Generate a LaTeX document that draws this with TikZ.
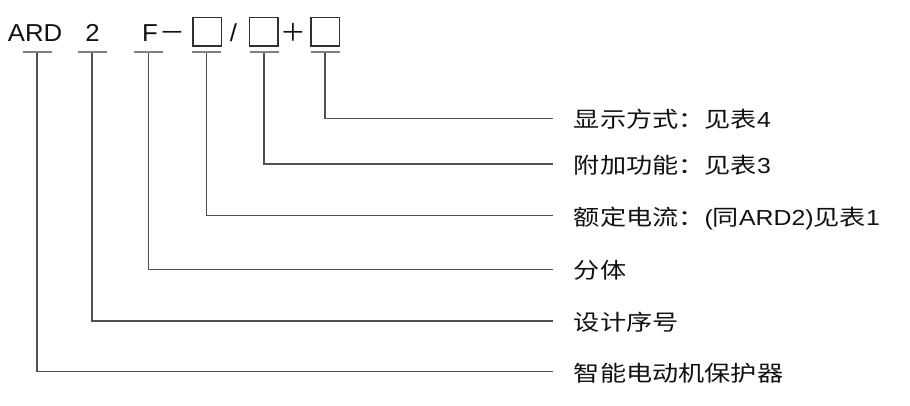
\documentclass[tikz,border=0pt]{standalone}
\usepackage{fontspec}
\setmainfont{Liberation Sans}
\newfontfamily\toplat[FakeStretch=1.05]{Liberation Sans}
\newfontfamily\topcjk[FakeStretch=1.05]{Noto Sans CJK SC}
\newfontfamily\lablat[FakeStretch=1.14]{Liberation Sans}
\newfontfamily\labcjk[FakeStretch=1.2]{Noto Sans CJK SC}
\definecolor{linec}{HTML}{505050}
\definecolor{barc}{HTML}{808080}
\definecolor{boxc}{HTML}{303030}
\definecolor{textc}{HTML}{111111}
\begin{document}
\begin{tikzpicture}[x=1pt,y=-1pt,
  topt/.style={inner sep=0pt, anchor=base, font=\fontsize{24.5}{28}\toplat, text=textc},
  topc/.style={inner sep=0pt, anchor=base, font=\fontsize{24.5}{28}\topcjk, text=textc},
  codebox/.style={draw=boxc, line width=1.5pt, minimum width=28.5pt, minimum height=28.5pt, inner sep=0pt},
  barline/.style={draw=barc, line width=2.2pt},
  conn/.style={draw=linec, line width=1.2pt},
  lab/.style={anchor=west, inner xsep=20.7pt, inner ysep=0pt, text height=21pt, text depth=2pt,
              font=\fontsize{21.8}{26}\lablat, text=textc}
]
\useasboundingbox (0,0) rectangle (910,406);

% top code
\node[topt] (ard) at (35,41.7) {ARD};
\node[topt] (two) at (92.5,41.7) {2};
\node[topt] (eff) at (150,41.7) {F};
\node[topc] (dash) at (172.5,41.7) {－};
\node[codebox] (bx1) at (207.2,31.7) {};
\node[topt] (slash) at (233.5,41.7) {/};
\node[codebox] (bx2) at (263.5,31.7) {};
\node[topc] (plus) at (293.5,41.7) {＋};
\node[codebox] (bx3) at (325,31.7) {};

% bar centres
\coordinate (c1) at (37,51.7);
\coordinate (c2) at (92,51.7);
\coordinate (c3) at (148.5,51.7);
\coordinate (c4) at (206.8,51.7);
\coordinate (c5) at (264,51.7);
\coordinate (c6) at (325,51.7);

% labels
\node[lab] (l6) at (553,118.3) {{\labcjk 显示方式：见表}4};
\node[lab] (l5) at (553,164) {{\labcjk 附加功能：见表}3};
\node[lab] (l4) at (553,215.7) {{\labcjk 额定电流：}({\labcjk 同}ARD2){\labcjk 见表}1};
\node[lab] (l3) at (553,269.3) {{\labcjk 分体}};
\node[lab] (l2) at (553,321) {{\labcjk 设计序号}};
\node[lab] (l1) at (553,371.7) {{\labcjk 智能电动机保护器}};

% connectors
\foreach \i in {1,...,6}{
  \draw[conn] (c\i) |- (l\i.west);
  \draw[barline] ([xshift=-14.5pt]c\i) -- ([xshift=14.5pt]c\i);
}
\end{tikzpicture}
\end{document}
